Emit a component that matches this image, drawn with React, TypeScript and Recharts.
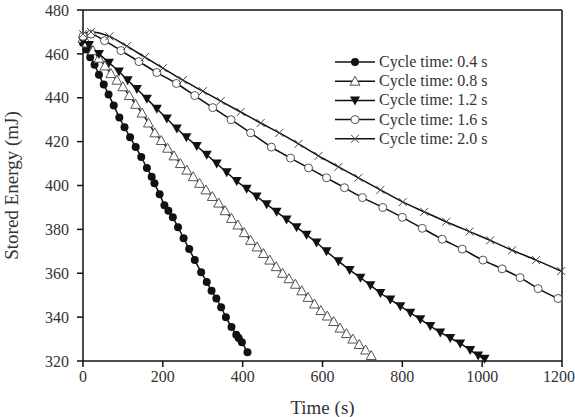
import { LineChart, Line, XAxis, YAxis, ReferenceLine } from "recharts";

const xTicks = [0, 200, 400, 600, 800, 1000, 1200];
const yTicks = [320, 340, 360, 380, 400, 420, 440, 460, 480];

// Cycle time 0.4 s
const time04 = [0, 8, 18, 29, 40, 52, 64, 77, 91, 104, 118, 132, 146, 160, 172, 179, 192, 204, 214, 225, 238, 252, 266, 280, 296, 310, 322, 334, 346, 358, 372, 384, 390, 398, 412];
const energy04 = [465, 462, 458.5, 455, 450.5, 446, 441.5, 436.5, 431, 426.5, 422, 417.5, 413, 408, 404, 401, 396, 391, 388.5, 385.5, 381, 376, 371, 366, 360.5, 356, 352, 348.5, 344.5, 340, 335.5, 332, 330.5, 328.5, 324];

// Cycle time 0.8 s
const time08 = [0, 10, 25, 40, 55, 70, 85, 100, 116, 132, 148, 164, 180, 196, 212, 228, 244, 260, 276, 292, 308, 324, 340, 356, 372, 388, 404, 420, 436, 452, 468, 484, 500, 516, 532, 548, 564, 580, 596, 612, 628, 644, 660, 676, 692, 708, 722];
const energy08 = [467, 465, 461.5, 458, 454.5, 451, 448, 445, 441, 437, 433, 428.5, 424, 420.5, 417, 413.5, 410, 407, 404, 401, 398, 395, 392, 388.5, 385, 382, 378.5, 375, 372, 369, 366, 363, 360, 357.5, 355, 352, 349, 346, 343, 340.5, 338, 335, 332.5, 330, 327.5, 325, 322.5];

// Cycle time 1.2 s
const time12 = [0, 15, 40, 65, 90, 112, 135, 160, 185, 210, 235, 259, 285, 310, 335, 360, 385, 410, 435, 460, 485, 510, 535, 560, 585, 610, 640, 668, 695, 720, 745, 770, 795, 820, 845, 870, 895, 920, 945, 970, 990, 1006];
const energy12 = [466, 464, 460, 456, 452, 448, 444, 439.5, 435, 430.5, 426, 422, 418, 414, 410, 406, 402, 398.5, 395, 391.5, 388, 384.5, 381, 377.5, 374, 370, 365.5, 361.5, 358, 354.5, 351, 348, 345, 342, 339, 336, 333, 330.5, 328, 325, 322.5, 321];

// Cycle time 1.6 s
const time16 = [0, 20, 54, 95, 140, 185, 234, 280, 325, 371, 420, 472, 520, 565, 610, 655, 700, 751, 800, 850, 900, 950, 1002, 1050, 1095, 1140, 1190];
const energy16 = [468, 469, 466, 461.5, 456.5, 451.5, 446.5, 441, 435.5, 430, 424, 417.5, 412.5, 408, 403.5, 399, 394.5, 390, 385.5, 380.5, 375.5, 371, 366, 362, 358, 353, 348.5];

// Cycle time 2.0 s
const time20 = [0, 20, 66, 110, 155, 200, 250, 300, 345, 395, 445, 492, 540, 590, 640, 690, 745, 801, 855, 910, 968, 1020, 1075, 1135, 1198];
const energy20 = [469, 470, 468, 463.5, 458.5, 453.5, 448, 443, 438.5, 433.5, 428.5, 424, 419, 413.5, 408.5, 403.5, 398, 392.5, 388, 383.5, 379, 375, 370.5, 366, 361];

const series = [
  { name: "Cycle time: 0.4 s", time: time04, energy: energy04, marker: "dot" },
  { name: "Cycle time: 0.8 s", time: time08, energy: energy08, marker: "tri" },
  { name: "Cycle time: 1.2 s", time: time12, energy: energy12, marker: "triDown" },
  { name: "Cycle time: 1.6 s", time: time16, energy: energy16, marker: "ring" },
  { name: "Cycle time: 2.0 s", time: time20, energy: energy20, marker: "cross" },
];

const FONT = "'Liberation Serif', 'Times New Roman', serif";
const TEXT = "#333";

function Marker({ kind, cx, cy }: { kind: string; cx: number; cy: number }) {
  if (cx == null || cy == null) return null;
  switch (kind) {
    case "dot":
      return <circle cx={cx} cy={cy} r={4} fill="#111" />;
    case "tri":
      return (
        <path
          d={`M${cx},${cy - 5} L${cx + 5},${cy + 4} L${cx - 5},${cy + 4} Z`}
          fill="#fff"
          stroke="#555"
          strokeWidth={1}
        />
      );
    case "triDown":
      return <path d={`M${cx - 5},${cy - 4} L${cx + 5},${cy - 4} L${cx},${cy + 5} Z`} fill="#111" />;
    case "ring":
      return <circle cx={cx} cy={cy} r={4} fill="#fff" stroke="#555" strokeWidth={1} />;
    default:
      return (
        <path
          d={`M${cx - 4},${cy - 4} L${cx + 4},${cy + 4} M${cx - 4},${cy + 4} L${cx + 4},${cy - 4}`}
          stroke="#444"
          strokeWidth={1}
        />
      );
  }
}

// legend drawn as a plain svg overlay so it does not eat plot space
function ChartLegend() {
  return (
    <svg
      width={220}
      height={100}
      style={{ position: "absolute", left: 333, top: 52, overflow: "visible" }}
    >
      {series.map((s, i) => {
        const y = 10 + i * 19.2;
        return (
          <g key={s.name}>
            <line x1={2} x2={42} y1={y} y2={y} stroke="#111" strokeWidth={1.5} />
            <Marker kind={s.marker} cx={22} cy={y} />
            <text x={46} y={y + 5} fontSize={16} fontFamily={FONT} fill={TEXT}>
              {s.name}
            </text>
          </g>
        );
      })}
    </svg>
  );
}

export default function App() {
  return (
    <div style={{ position: "absolute", left: 0, top: 0, width: 575, height: 417, background: "#fff" }}>
      <LineChart width={575} height={417} margin={{ top: 10, right: 13, left: 0, bottom: 0 }}>
        <XAxis
          dataKey="t"
          type="number"
          domain={[0, 1200]}
          ticks={xTicks}
          height={56}
          tickSize={6}
          tickMargin={4}
          axisLine={{ stroke: "#111", strokeWidth: 1.5 }}
          tickLine={{ stroke: "#111", strokeWidth: 1.5 }}
          tick={{ fill: TEXT, fontSize: 16, fontFamily: FONT }}
          label={{ value: "Time (s)", position: "insideBottom", offset: 3, fill: TEXT, fontSize: 19, fontFamily: FONT }}
        />
        <YAxis
          type="number"
          domain={[320, 480]}
          ticks={yTicks}
          width={83}
          tickSize={6}
          tickMargin={8}
          axisLine={{ stroke: "#111", strokeWidth: 1.5 }}
          tickLine={{ stroke: "#111", strokeWidth: 1.5 }}
          tick={{ fill: TEXT, fontSize: 16, fontFamily: FONT }}
          label={{
            value: "Stored Energy (mJ)",
            angle: -90,
            position: "insideLeft",
            offset: 11,
            fill: TEXT,
            fontSize: 19,
            fontFamily: FONT,
            style: { textAnchor: "middle" },
          }}
        />
        <ReferenceLine y={480} stroke="#111" strokeWidth={1.5} ifOverflow="visible" />
        <ReferenceLine x={1200} stroke="#111" strokeWidth={1.5} ifOverflow="visible" />
        {series.map((s) => (
          <Line
            key={s.name}
            name={s.name}
            data={s.time.map((t, i) => ({ t, e: s.energy[i] }))}
            dataKey="e"
            type="monotone"
            stroke="#111"
            strokeWidth={1.5}
            dot={(p: any) => <Marker key={`${s.name}-${p.index}`} kind={s.marker} cx={p.cx} cy={p.cy} />}
            activeDot={false}
            isAnimationActive={false}
          />
        ))}
      </LineChart>
      <ChartLegend />
    </div>
  );
}
